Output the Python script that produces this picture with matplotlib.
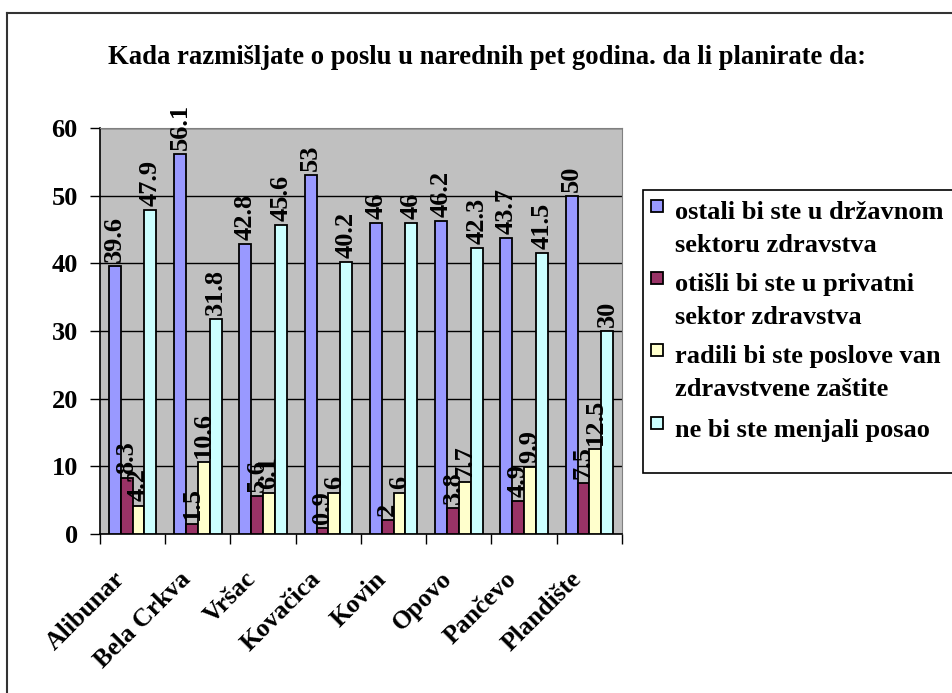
import matplotlib
matplotlib.use("Agg")
import matplotlib.pyplot as plt
from matplotlib.patches import Rectangle
from matplotlib.lines import Line2D
import numpy as np

W, H = 953, 693

TITLE = "Kada razmišljate o poslu u narednih pet godina. da li planirate da:"
towns = ["Alibunar", "Bela Crkva", "Vršac", "Kovačica", "Kovin", "Opovo", "Pančevo", "Plandište"]
series_names = ["ostali bi ste u državnom\nsektoru zdravstva",
                "otišli bi ste u privatni\nsektor zdravstva",
                "radili bi ste poslove van\nzdravstvene zaštite",
                "ne bi ste menjali posao"]
drzavni = [39.6, 56.1, 42.8, 53, 46, 46.2, 43.7, 50]
privatni = [8.3, 1.5, 5.6, 0.9, 2, 3.8, 4.9, 7.5]
van = [4.2, 10.6, 6.1, 6, 6, 7.7, 9.9, 12.5]
ne_menjaju = [47.9, 31.8, 45.6, 40.2, 46, 42.3, 41.5, 30]
COLORS = ["#9999FF", "#993366", "#FFFFCC", "#CCFFFF"]

FONT = "Liberation Serif"


def px(x, y):
    return x / W, 1 - y / H


fig = plt.figure(figsize=(W / 100, H / 100), dpi=100)

# outer chart frame (only left and top are visible)
fig.add_artist(Line2D([7 / W, 7 / W], [0, 1 - 13 / H], color="#333333", lw=1.5))
fig.add_artist(Line2D([7 / W, 1], [1 - 13 / H, 1 - 13 / H], color="#333333", lw=1.5))

ax = fig.add_axes([100 / W, (H - 534) / H, 522 / W, (534 - 128) / H])
ax.set_facecolor("#C0C0C0")

all_series = [drzavni, privatni, van, ne_menjaju]
bw = 1 / 5.5
x = np.arange(len(towns)) + 0.5
for i, vals in enumerate(all_series):
    xs = x + (i - 1.5) * bw
    ax.bar(xs, vals, width=bw, color=COLORS[i], edgecolor="black", linewidth=1.3, zorder=3)
    for xi, v in zip(xs, vals):
        ax.annotate("%g" % v, (xi, v), xytext=(0, 3), textcoords="offset points",
                    rotation=90, ha="center", va="bottom", fontsize=19,
                    fontweight="bold", family=FONT, zorder=4)

ax.set_xlim(0, len(towns))
ax.set_ylim(0, 60)
ax.set_yticks(range(0, 61, 10))
ax.yaxis.grid(True, color="black", linewidth=1, zorder=1)
ax.set_axisbelow(True)
ax.set_xticks(range(len(towns) + 1))
ax.set_xticklabels([])
ax.tick_params(axis="both", direction="out", length=7, width=1, colors="black")
ax.tick_params(axis="y", labelsize=19, pad=9)
for lab in ax.get_yticklabels():
    lab.set_fontweight("bold")
    lab.set_family(FONT)
for s in ["top", "right"]:
    ax.spines[s].set_color("#808080")
for s in ["left", "bottom"]:
    ax.spines[s].set_color("black")
    ax.spines[s].set_linewidth(1.2)

# category labels rotated 45 degrees
for xi, t in zip(x, towns):
    ax.annotate(t, (xi, 0), xytext=(-8, -30), textcoords="offset points",
                rotation=45, ha="right", va="center", rotation_mode="anchor",
                fontsize=18.5, fontweight="bold", family=FONT, annotation_clip=False)

fig.text(*px(487, 58), TITLE, ha="center", va="center", fontsize=19.2,
         fontweight="bold", family=FONT)

# legend box, drawn by hand so it can run off the right edge like the original
fig.add_artist(Rectangle(px(643, 473), (990 - 643) / W, (473 - 190) / H,
                         transform=fig.transFigure, facecolor="white",
                         edgecolor="black", linewidth=1.2))
rows = [213, 285, 357, 430]
for i, name in enumerate(series_names):
    y0 = rows[i]
    fig.add_artist(Rectangle(px(651, y0 - 1), 12 / W, 12 / H, transform=fig.transFigure,
                             facecolor=COLORS[i], edgecolor="black", linewidth=1.3))
    for j, line in enumerate(name.split("\n")):
        fig.text(*px(675, y0 + 32 * j), line, ha="left", va="center", fontsize=19,
                 fontweight="bold", family=FONT)

fig.savefig("out.png", dpi=100, facecolor="white")
